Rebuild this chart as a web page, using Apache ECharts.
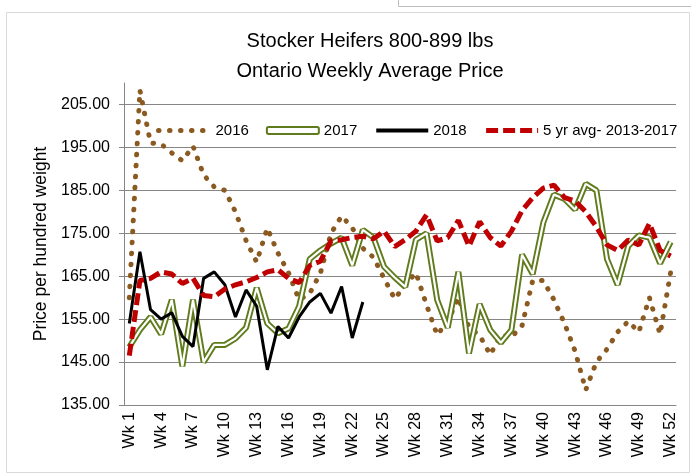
<!DOCTYPE html>
<html>
<head>
<meta charset="utf-8">
<script src="https://cdn.jsdelivr.net/npm/echarts@6/dist/echarts.min.js"></script>
<style>
html,body{margin:0;padding:0;background:#fff;}
#main{width:691px;height:474px;}
</style>
</head>
<body>
<div id="main"></div>
<script>
var weeks = [];
for (var i = 1; i <= 52; i++) weeks.push('Wk ' + i);

var y2016 = [160, 208.3, 196, 195.8, 193.7, 191.9, 195.3, 188.6, 185.8, 185, 180, 173.3, 168.3, 176.2, 170.4, 165.8, 159.5, 161, 165.7, 175, 179, 176.3, 171.5, 169.4, 164.5, 159.7, 163, 165.8, 158.3, 151.3, 154.5, 160, 153, 151.2, 146.7, 151.3, 150.8, 153.5, 164, 164, 159.5, 154, 147.5, 138.5, 145, 148, 152, 154.5, 152, 160, 151.5, 166];
var y2017 = [148.5, 152.5, 155.5, 151.5, 159.5, 144, 159.5, 145, 149, 149, 150.5, 153, 162.3, 154, 151.7, 152.8, 158, 169, 171, 172.6, 174, 167.5, 175.8, 174, 167.2, 164.7, 162.5, 173.5, 175, 159.5, 153, 166, 147, 158.5, 152.5, 149.5, 152.5, 170, 165.5, 177.5, 184, 183, 180.5, 186.5, 185, 169, 163, 172, 174.5, 174, 168, 173];
var y2018 = [154, 170.7, 157.2, 155, 156.5, 151, 148.6, 164.5, 166, 163, 155.5, 161.8, 158, 143.2, 153.3, 150.6, 155.5, 159, 161, 156.4, 162.6, 150.6, 159];
var yAvg = [146.5, 164, 164.5, 166, 165.5, 163.3, 164.5, 160.5, 160.2, 162, 163, 163.7, 164.7, 166, 166.5, 164.5, 163.5, 167.5, 168.5, 173.2, 173.5, 174, 174.3, 173.7, 175.5, 171.9, 173.5, 175.5, 179.3, 173.2, 174, 178, 172, 177.7, 174, 172, 175.5, 180.3, 183.3, 185.5, 186.2, 183.3, 182.5, 180, 176.5, 172.3, 171, 173.4, 172.3, 177.3, 171, 169.7];

var brown = '#8a5a20';
var green = '#5f7b1c';
var red = '#c00000';
var font = 'Liberation Sans';
var noSymbol = {opacity: 0};

var style2016 = {color: brown, width: 5, type: [0.5, 10.5], cap: 'round'};
var style2018 = {color: '#000', width: 3};
var styleAvg = {color: red, width: 5, type: [12, 5]};

var chart = echarts.init(document.getElementById('main'));
chart.setOption({
    animation: false,
    textStyle: {fontFamily: font},
    title: {
        text: 'Stocker Heifers 800-899 lbs\nOntario Weekly Average Price',
        left: 365,
        top: 21,
        textAlign: 'center',
        textStyle: {fontFamily: font, fontSize: 20, fontWeight: 'normal', color: '#000', lineHeight: 30}
    },
    graphic: [
        {type: 'rect', shape: {x: 6.5, y: 12.5, width: 683, height: 460}, style: {fill: null, stroke: '#d9d9d9', lineWidth: 1}, silent: true},
        {type: 'polyline', shape: {points: [[398.5, 0], [398.5, 6.5], [691, 6.5]]}, style: {fill: null, stroke: '#bfbfbf', lineWidth: 1}, silent: true}
    ],
    legend: {
        left: 151,
        top: 118,
        itemWidth: 52,
        itemHeight: 7,
        itemGap: 17,
        textStyle: {fontFamily: font, fontSize: 15, color: '#000'},
        data: [
            {name: '2016', itemStyle: noSymbol, lineStyle: {color: brown, width: 5, type: [0.5, 10.5], cap: 'round'}},
            {name: '2017', icon: 'roundRect', itemStyle: {color: '#fff', borderColor: green, borderWidth: 2}},
            {name: '2018', itemStyle: noSymbol, lineStyle: {color: '#000', width: 4}},
            {name: '5 yr avg- 2013-2017', itemStyle: noSymbol, lineStyle: {color: red, width: 5, type: [12, 5]}}
        ]
    },
    grid: {left: 124, right: 15, top: 83, bottom: 69},
    xAxis: {
        type: 'category',
        data: weeks,
        boundaryGap: true,
        axisLine: {lineStyle: {color: '#868686'}},
        axisTick: {interval: 0, length: 5, lineStyle: {color: '#868686'}},
        axisLabel: {interval: 2, rotate: 90, fontFamily: font, fontSize: 16, color: '#000', margin: 7}
    },
    yAxis: {
        type: 'value',
        min: 135,
        max: 210,
        interval: 10,
        name: 'Price per hundred weight',
        nameLocation: 'middle',
        nameGap: 68,
        nameTextStyle: {fontFamily: font, fontSize: 17.5, color: '#000'},
        axisLine: {show: true, lineStyle: {color: '#868686'}},
        axisTick: {show: true, length: 5, lineStyle: {color: '#868686'}},
        axisLabel: {showMaxLabel: false, fontFamily: font, fontSize: 16, color: '#000', margin: 14,
            formatter: function (v) { return v.toFixed(2); }},
        splitLine: {showMaxLine: false, lineStyle: {color: '#868686', width: 1}}
    },
    series: [
        {name: '2016', type: 'line', data: y2016, symbol: 'none', color: brown, lineStyle: style2016},
        {name: '2017', type: 'line', data: y2017, symbol: 'none', color: green,
            lineStyle: {color: green, width: 6}},
        {name: '2017 inner', type: 'line', data: y2017, symbol: 'none', color: '#fff',
            lineStyle: {color: '#fff', width: 2.2}},
        {name: '2018', type: 'line', data: y2018, symbol: 'none', color: '#000', lineStyle: style2018},
        {name: '5 yr avg- 2013-2017', type: 'line', data: yAvg, symbol: 'none', color: red, lineStyle: styleAvg}
    ]
});
</script>
</body>
</html>
